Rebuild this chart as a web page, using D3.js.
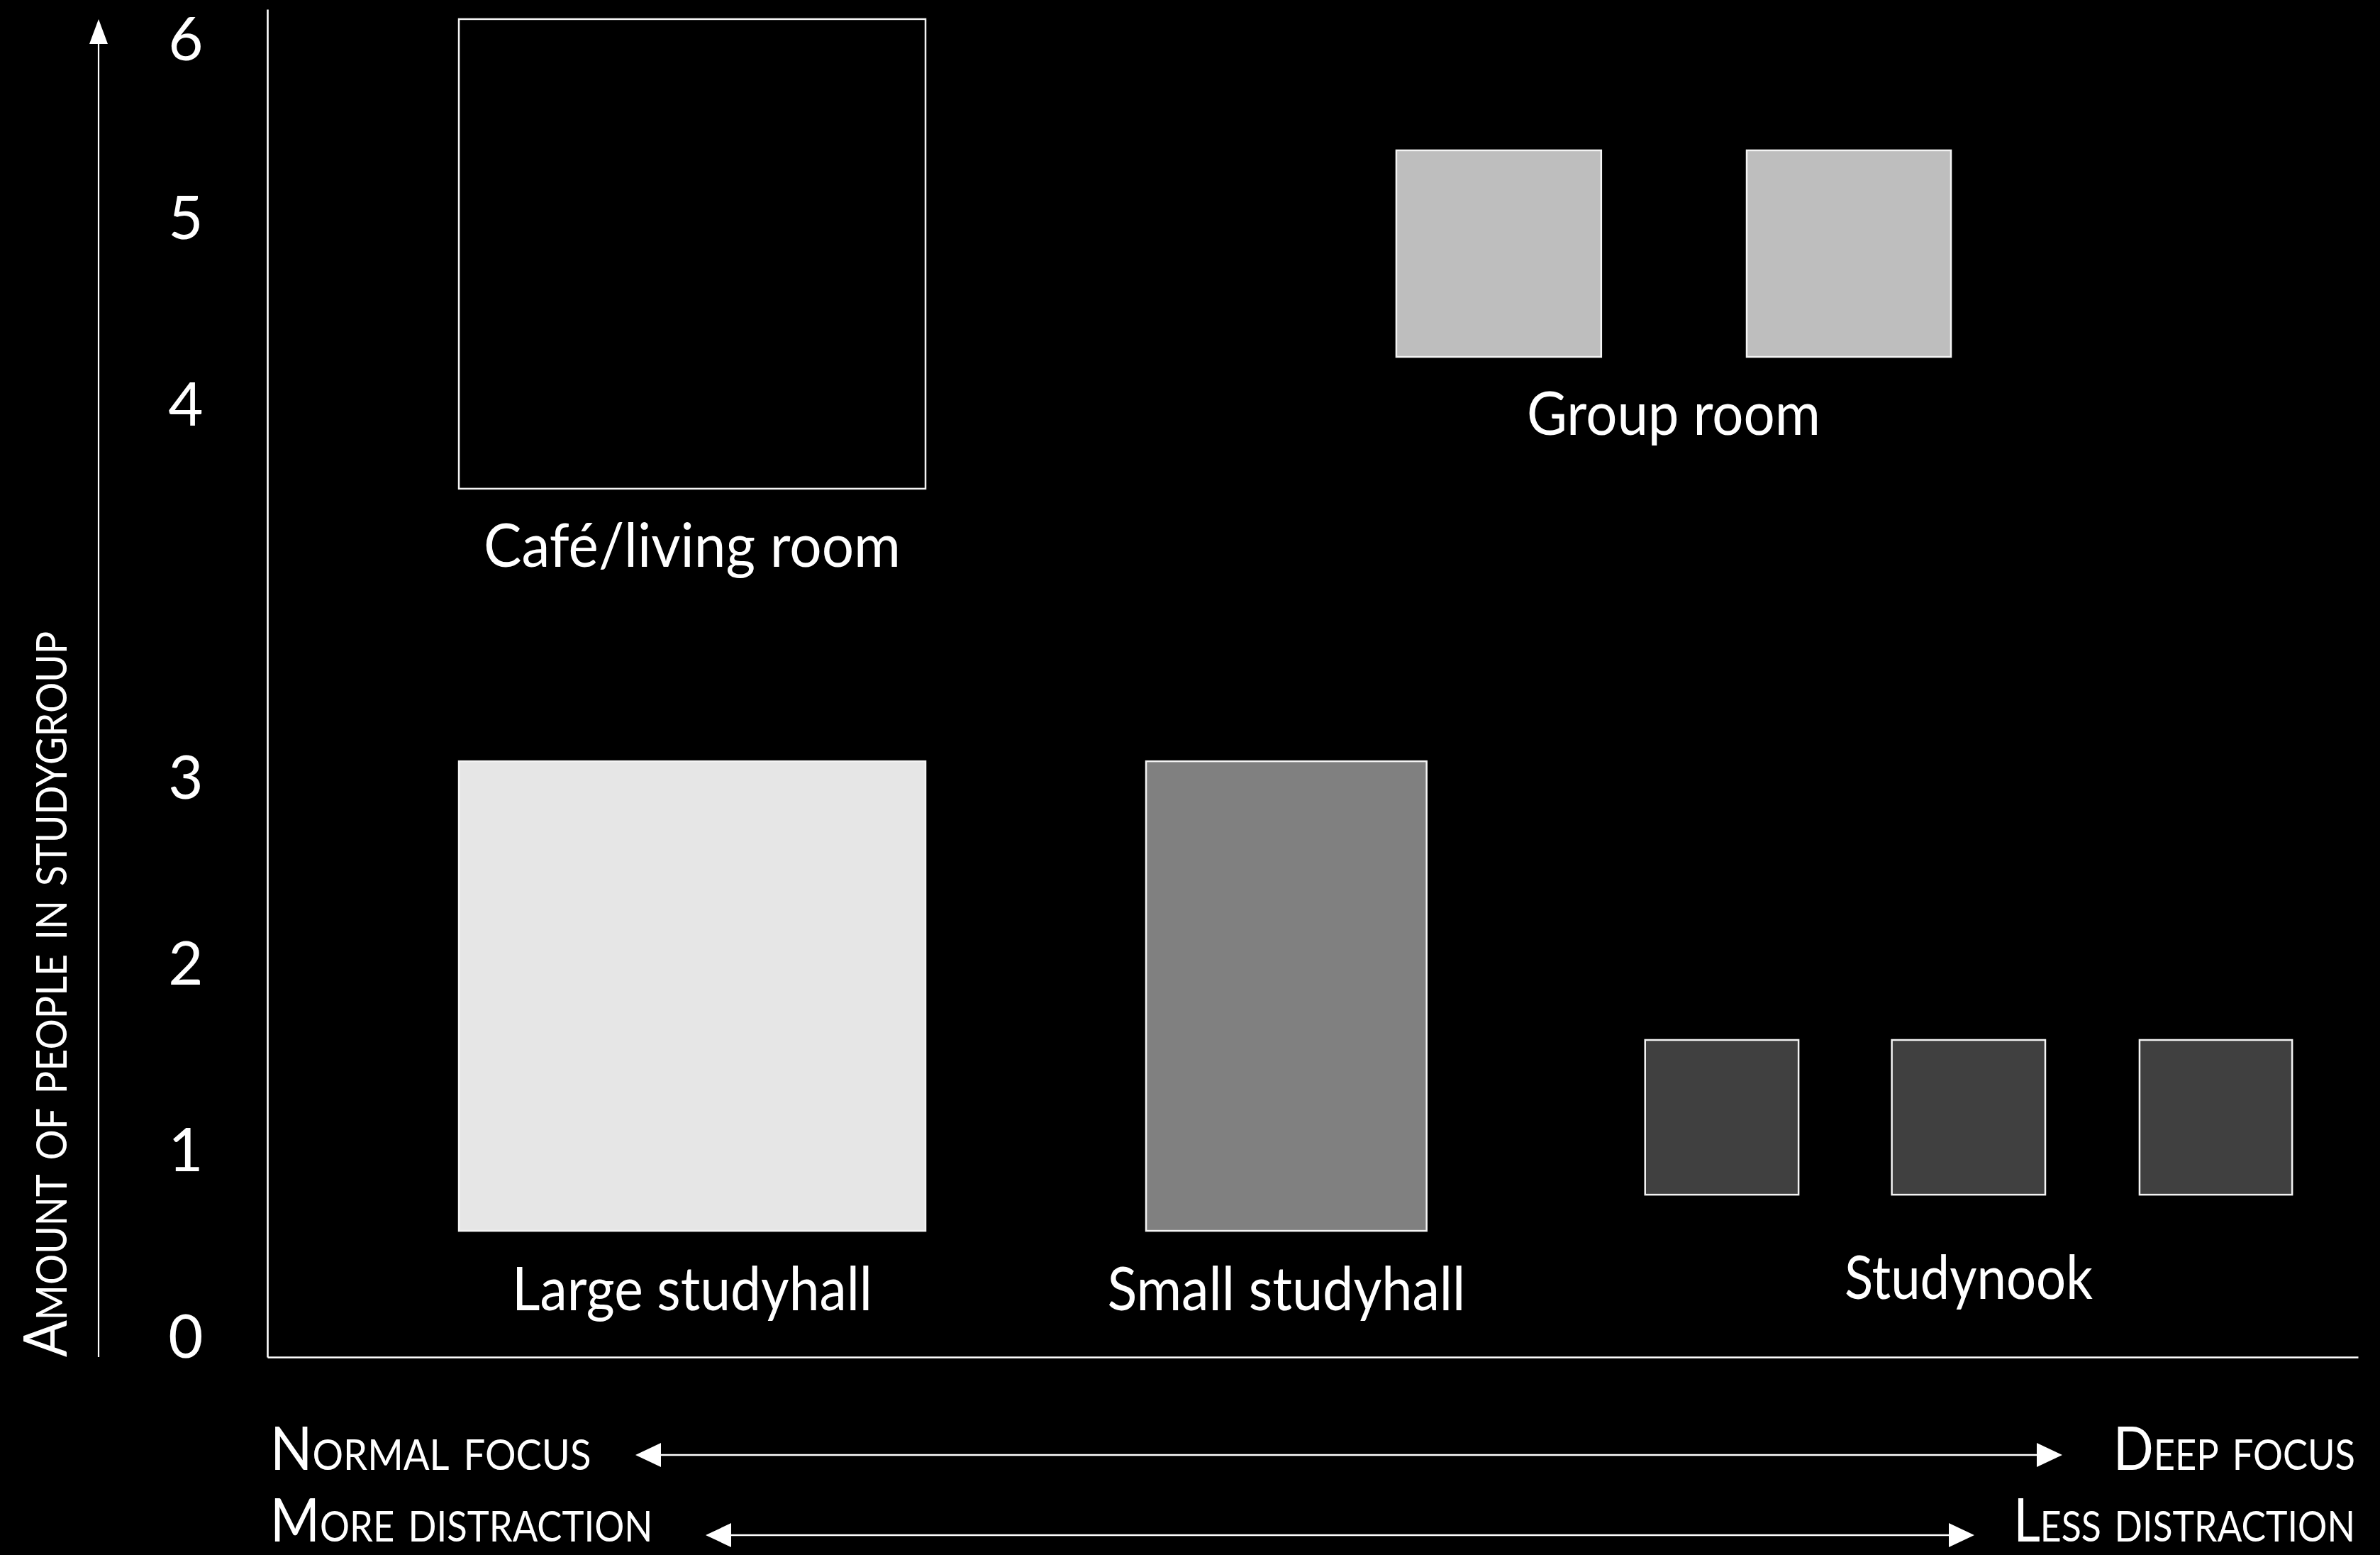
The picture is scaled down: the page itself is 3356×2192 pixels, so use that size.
<!DOCTYPE html>
<html>
<head>
<meta charset="utf-8">
<script src="https://cdn.jsdelivr.net/npm/d3@7"></script>
<style>
  html, body { margin: 0; padding: 0; background: #000; }
  svg { display: block; }
  text { font-family: "Lato", "Open Sans", sans-serif; fill: #fff; }
</style>
</head>
<body>
<svg id="chart" width="3356" height="2192"></svg>
<script>
// ---------------- DATA ----------------
const rooms = ["Café/living room", "Group room", "Large studyhall", "Small studyhall", "Studynook"];
// label level (in y-slot units) for each room name
const roomLabelLevel = [4.124, 4.832, 0.136, 0.136, 0.197];

// each drawn cell (room unit)
const cellRoom = ["Café/living room", "Group room", "Group room", "Large studyhall", "Small studyhall", "Studynook", "Studynook", "Studynook"];
const cellX0 = [9.16, 54.0, 70.76, 9.16, 42.03, 65.9, 77.7, 89.55];
const cellX1 = [31.48, 63.8, 80.53, 31.48, 55.45, 73.24, 85.04, 96.85];
const cellY0 = [4.543, 5.25, 5.25, 0.562, 0.562, 0.756, 0.756, 0.756];
const cellY1 = [7.062, 6.358, 6.358, 3.081, 3.081, 1.586, 1.586, 1.586];

// y axis: tick slots (there is a gap slot between 3 and 4) and their labels
const yTickSlots = [0, 1, 2, 3, 5, 6, 7];
const yTickLabels = ["0", "1", "2", "3", "4", "5", "6"];

const yTitle = "Amount of people in studygroup";
const focusLeft = "Normal focus", focusRight = "Deep focus";
const distLeft = "More distraction", distRight = "Less distraction";

// ---------------- STYLE / LAYOUT ----------------
const W = 3356, H = 2192;
const plot = { left: 377, right: 3325, top: 13, bottom: 1913 };
const roomColor = d3.scaleOrdinal()
  .domain(rooms)
  .range(["#000000", "#bebebe", "#e6e6e6", "#808080", "#404040"]);
const labelLen = {
  "Café/living room": 588, "Group room": 414, "Large studyhall": 508,
  "Small studyhall": 505, "Studynook": 350
};
const FS = 85;

const svg = d3.select("#chart");
svg.append("rect").attr("width", W).attr("height", H).attr("fill", "#000");

const x = d3.scaleLinear().domain([0, 100]).range([plot.left, plot.right]);
const y = d3.scaleLinear().domain([-0.115, 7.115]).range([plot.bottom, plot.top]);

// keep a text's box inside the picture (vertical nudge only)
function clampY(node) {
  const b = node.getBoundingClientRect();
  if (b.top < 1) return 1 - b.top;
  if (b.bottom > H - 1) return (H - 1) - b.bottom;
  return 0;
}

// place a text so that its drawn width equals `width` (horizontal scaling)
function fitText(t, px, py, width, anchor, rot) {
  t.attr("x", 0).attr("y", 0).attr("text-anchor", anchor);
  const natural = t.node().getComputedTextLength();
  const k = width / natural;
  let dy = 0;
  const apply = () => t.attr("transform",
    `translate(${px},${py + dy})${rot ? ` rotate(${rot})` : ""} scale(${k},1)`);
  apply();
  if (!rot) { dy = clampY(t.node()); apply(); }
}

// axes
const yAxis = d3.axisLeft(y)
  .tickValues(yTickSlots)
  .tickFormat((d, i) => yTickLabels[i])
  .tickSize(0)
  .tickSizeOuter(0);
const gy = svg.append("g").attr("transform", `translate(${plot.left},0)`).call(yAxis);
gy.select(".domain").attr("stroke", "#fff").attr("stroke-width", 2.6);
gy.selectAll(".tick text")
  .attr("x", 262 - plot.left)
  .attr("dy", "0.36em")
  .attr("text-anchor", "middle")
  .style("font-family", "Lato, sans-serif")
  .style("font-size", FS + "px")
  .attr("fill", "#fff")
  .each(function () {
    const d = clampY(this);
    if (d) d3.select(this).attr("y", (+d3.select(this).attr("y") || 0) + d);
  });

const xAxis = d3.axisBottom(x).tickValues([]).tickSizeOuter(0);
const gx = svg.append("g").attr("transform", `translate(0,${plot.bottom})`).call(xAxis);
gx.select(".domain").attr("stroke", "#fff").attr("stroke-width", 2.6);

// cells
const cells = cellRoom.map((r, i) => ({ room: r, x0: cellX0[i], x1: cellX1[i], y0: cellY0[i], y1: cellY1[i] }));
svg.append("g").selectAll("rect").data(cells).join("rect")
  .attr("x", d => x(d.x0))
  .attr("y", d => y(d.y1))
  .attr("width", d => x(d.x1) - x(d.x0))
  .attr("height", d => y(d.y0) - y(d.y1))
  .attr("fill", d => roomColor(d.room))
  .attr("stroke", "#f4f4f4")
  .attr("stroke-width", 2.5);

// room labels, centred under each room's cells
const labels = rooms.map((r, i) => {
  const cs = cells.filter(c => c.room === r);
  return { room: r, cx: (d3.min(cs, c => c.x0) + d3.max(cs, c => c.x1)) / 2, level: roomLabelLevel[i] };
});
svg.append("g").selectAll("text").data(labels).join("text")
  .style("font-size", FS + "px")
  .text(d => d.room)
  .each(function (d) {
    fitText(d3.select(this), x(d.cx), y(d.level), labelLen[d.room], "middle");
  });

// arrows
const arrowHead = (tipX, tipY, dir, len, half) => {
  if (dir === "up") return `M${tipX},${tipY}L${tipX - half},${tipY + len}L${tipX + half},${tipY + len}Z`;
  if (dir === "left") return `M${tipX},${tipY}L${tipX + len},${tipY - half}L${tipX + len},${tipY + half}Z`;
  return `M${tipX},${tipY}L${tipX - len},${tipY - half}L${tipX - len},${tipY + half}Z`;
};
const ga = svg.append("g");
ga.append("line").attr("x1", 139).attr("x2", 139).attr("y1", plot.bottom).attr("y2", 60)
  .attr("stroke", "#fff").attr("stroke-width", 2.2);
ga.append("path").attr("d", arrowHead(139, 27, "up", 35, 13)).attr("fill", "#fff");

const yt = svg.append("text")
  .style("font-size", FS + "px")
  .style("font-variant", "small-caps")
  .text(yTitle);
fitText(yt, 94, plot.bottom, 1025, "start", -90);

// bottom double arrows
const rows = [
  { y: 2051, l: 896, r: 2908, left: focusLeft, right: focusRight, ty: 2072, lLen: 456, rLen: 344 },
  { y: 2164, l: 995, r: 2784, left: distLeft, right: distRight, ty: 2182, lLen: 545, rLen: 482 }
];
rows.forEach(rw => {
  ga.append("line").attr("x1", rw.l + 30).attr("x2", rw.r - 30).attr("y1", rw.y).attr("y2", rw.y)
    .attr("stroke", "#fff").attr("stroke-width", 2.4);
  ga.append("path").attr("d", arrowHead(rw.l, rw.y, "left", 36, 17)).attr("fill", "#fff");
  ga.append("path").attr("d", arrowHead(rw.r, rw.y, "right", 36, 17)).attr("fill", "#fff");
  const tl = svg.append("text")
    .style("font-size", FS + "px").style("font-variant", "small-caps")
    .text(rw.left);
  fitText(tl, 381, rw.ty, rw.lLen, "start");
  const tr = svg.append("text")
    .style("font-size", FS + "px").style("font-variant", "small-caps")
    .text(rw.right);
  fitText(tr, 3321, rw.ty, rw.rLen, "end");
});
</script>
</body>
</html>
